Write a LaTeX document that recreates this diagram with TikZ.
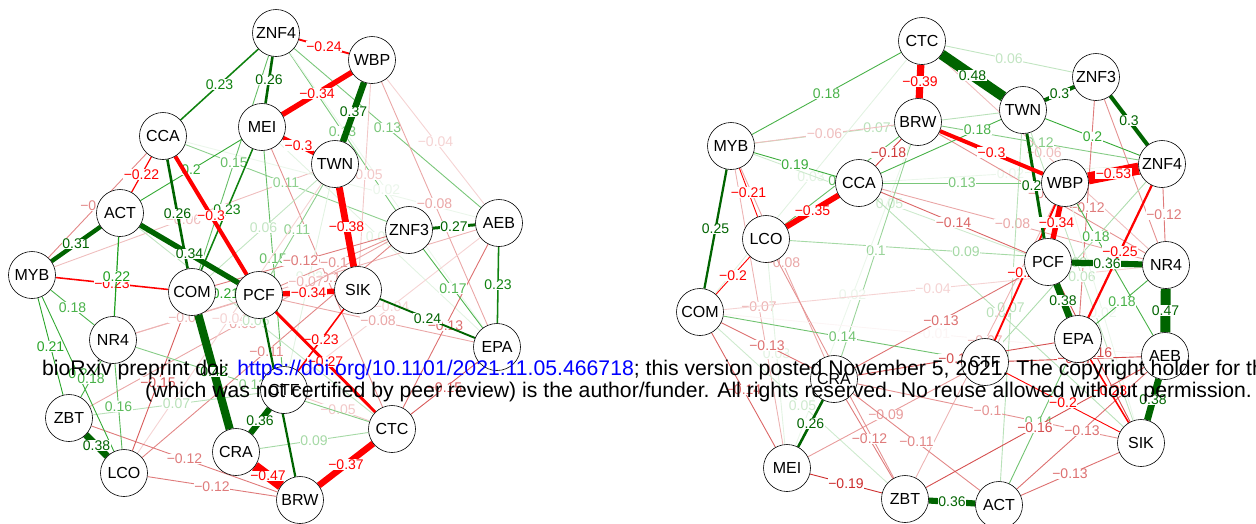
\documentclass[tikz,border=0pt]{standalone}
\usepackage{fontspec}
\setmainfont{Liberation Sans}
\definecolor{gdark}{RGB}{0,100,0}
\definecolor{gmid}{RGB}{30,160,30}
\definecolor{rmid}{RGB}{205,45,45}
\definecolor{rstrong}{RGB}{255,0,0}
\definecolor{doiblue}{RGB}{0,0,255}
\pgfdeclarelayer{fg}
\pgfdeclarelayer{top}
\pgfsetlayers{main,fg,top}
\tikzset{
  nd/.style={circle, draw=black, line width=0.6pt, fill=white, minimum size=47pt, inner sep=0pt, font=\fontsize{16}{16}\selectfont},
  elab/.style={fill=white, inner sep=0.4pt, font=\fontsize{14}{14}\selectfont},
  banner/.style={anchor=base west, inner sep=0pt, font=\fontsize{21.2}{22}\selectfont}
}
% #1 label pos, #2 from, #3 to, #4 sign (+/-), #5 absolute weight
\newcommand\edg[5][0.5]{%
  \pgfmathsetmacro\eAW{#5}%
  \pgfmathsetmacro\eLW{max(0.9,4+(\eAW-0.3)*35)}%
  \if-#4%
    \pgfmathtruncatemacro\ePC{min(100,100*\eAW/0.19)}%
    \pgfmathtruncatemacro\eCS{\eAW>=0.195?1:0}%
    \ifnum\eCS=1 \colorlet{ec}{rstrong}\else\colorlet{ec}{rmid!\ePC!white}\fi
    \def\eLab{−#5}%
  \else
    \pgfmathtruncatemacro\ePC{min(100,100*\eAW/0.22)}%
    \pgfmathtruncatemacro\eCS{\eAW>=0.235?1:(\eAW>=0.225?2:0)}%
    \ifcase\eCS \colorlet{ec}{gmid!\ePC!white}\or\colorlet{ec}{gdark}\or\colorlet{ec}{gdark!50!gmid}\fi
    \def\eLab{#5}%
  \fi
  \draw[ec, line width=\eLW pt] (#2) -- node[pos=#1, elab, text=ec] {\eLab} (#3);%
}
\begin{document}
\begin{tikzpicture}[x=1pt,y=-1pt]
\useasboundingbox (0,0) rectangle (1256,523);
\begin{pgfonlayer}{fg}
% left network
\node[nd] (lZNF4) at (276,33) {ZNF4};
\node[nd] (lWBP) at (372,60) {WBP};
\node[nd] (lCCA) at (163,136) {CCA};
\node[nd] (lMEI) at (262,127) {MEI};
\node[nd] (lTWN) at (335,164) {TWN};
\node[nd] (lACT) at (120,213) {ACT};
\node[nd] (lZNF3) at (409,230) {ZNF3};
\node[nd] (lAEB) at (499,223) {AEB};
\node[nd] (lMYB) at (32,275) {MYB};
\node[nd] (lCOM) at (192,292) {COM};
\node[nd] (lPCF) at (259,295) {PCF};
\node[nd] (lSIK) at (358,290) {SIK};
\node[nd] (lNR4) at (113,340) {NR4};
\node[nd] (lEPA) at (497,347) {EPA};
\node[nd] (lCTF) at (284,390) {CTF};
\node[nd] (lZBT) at (69,418) {ZBT};
\node[nd] (lCTC) at (392,429) {CTC};
\node[nd] (lCRA) at (236,452) {CRA};
\node[nd] (lLCO) at (124,473) {LCO};
\node[nd] (lBRW) at (300,500) {BRW};
% right network
\node[nd] (rCTC) at (922,41) {CTC};
\node[nd] (rZNF3) at (1096,77) {ZNF3};
\node[nd] (rMYB) at (731,146) {MYB};
\node[nd] (rBRW) at (918,122) {BRW};
\node[nd] (rTWN) at (1023,110) {TWN};
\node[nd] (rZNF4) at (1162,164) {ZNF4};
\node[nd] (rCCA) at (859,183) {CCA};
\node[nd] (rWBP) at (1065,183) {WBP};
\node[nd] (rLCO) at (766,239) {LCO};
\node[nd] (rPCF) at (1048,262) {PCF};
\node[nd] (rNR4) at (1166,265) {NR4};
\node[nd] (rCOM) at (700,312) {COM};
\node[nd] (rEPA) at (1078,339) {EPA};
\node[nd] (rAEB) at (1165,356) {AEB};
\node[nd] (rCTF) at (985,362) {CTF};
\node[nd] (rCRA) at (834,379) {CRA};
\node[nd] (rSIK) at (1141,443) {SIK};
\node[nd] (rMEI) at (787,468) {MEI};
\node[nd] (rZBT) at (905,499) {ZBT};
\node[nd] (rACT) at (999,505) {ACT};
\end{pgfonlayer}
% ---------- left edges, weak ----------
\edg{lMYB}{lCCA}{-}{0.11}
\edg{lMYB}{lTWN}{-}{0.06}
\edg{lCCA}{lZNF3}{+}{0.11}
\edg{lCCA}{lAEB}{+}{0.02}
\edg{lZNF4}{lCOM}{+}{0.15}
\edg{lZNF4}{lZNF3}{+}{0.13}
\edg{lZNF4}{lAEB}{+}{0.13}
\edg{lWBP}{lAEB}{-}{0.04}
\edg{lWBP}{lEPA}{-}{0.08}
\edg{lZNF4}{lEPA}{+}{0.02}
\edg{lWBP}{lSIK}{-}{0.05}
\edg{lMEI}{lCTC}{-}{0.1}
\edg{lMEI}{lEPA}{+}{0.03}
\edg{lMEI}{lCTF}{+}{0.15}
\edg{lTWN}{lCOM}{+}{0.06}
\edg{lTWN}{lPCF}{+}{0.11}
\edg{lTWN}{lCTF}{+}{0.03}
\edg{lZNF3}{lPCF}{-}{0.1}
\edg{lAEB}{lNR4}{-}{0.07}
\edg{lZNF3}{lCOM}{-}{0.12}
\edg{lZNF3}{lLCO}{-}{0.11}
\edg{lZNF3}{lZBT}{-}{0.08}
\edg{lTWN}{lLCO}{-}{0.04}
\edg{lAEB}{lCTF}{-}{0.04}
\edg{lEPA}{lPCF}{-}{0.08}
\edg{lAEB}{lCTC}{-}{0.13}
\edg{lEPA}{lCTC}{-}{0.15}
\edg{lZBT}{lCTF}{+}{0.07}
\edg{lZBT}{lBRW}{-}{0.12}
\edg{lLCO}{lBRW}{-}{0.12}
\edg{lLCO}{lCOM}{-}{0.15}
\edg{lACT}{lCTC}{+}{0.06}
\edg{lCRA}{lCTC}{+}{0.09}
\edg{lCTF}{lCTC}{-}{0.05}
\edg{lNR4}{lCTC}{+}{0.12}
\edg{lNR4}{lPCF}{-}{0.07}
% ---------- left edges, medium and strong ----------
\edg{lCCA}{lACT}{-}{0.22}
\edg{lACT}{lMEI}{+}{0.2}
\edg{lMEI}{lCOM}{+}{0.23}
\edg{lZNF4}{lCCA}{+}{0.23}
\edg{lMYB}{lCOM}{-}{0.23}
\edg{lACT}{lNR4}{+}{0.22}
\edg{lMYB}{lNR4}{+}{0.18}
\edg{lMYB}{lZBT}{+}{0.21}
\edg{lMYB}{lLCO}{+}{0.2}
\edg{lZBT}{lNR4}{+}{0.18}
\edg{lNR4}{lLCO}{+}{0.16}
\edg{lZNF3}{lEPA}{+}{0.17}
\edg{lAEB}{lEPA}{+}{0.23}
\edg{lSIK}{lEPA}{+}{0.24}
\edg{lZNF4}{lWBP}{-}{0.24}
\edg{lCOM}{lPCF}{+}{0.21}
\edg{lPCF}{lBRW}{+}{0.25}
\edg{lCCA}{lCOM}{+}{0.26}
\edg{lZNF4}{lMEI}{+}{0.26}
\edg{lZNF3}{lAEB}{+}{0.27}
\edg{lSIK}{lCTF}{-}{0.23}
\edg{lPCF}{lCTC}{-}{0.27}
\edg{lMEI}{lTWN}{-}{0.3}
\edg{lCCA}{lPCF}{-}{0.3}
\edg{lMYB}{lACT}{+}{0.31}
\edg{lACT}{lPCF}{+}{0.34}
\edg{lMEI}{lWBP}{-}{0.34}
\edg{lPCF}{lSIK}{-}{0.34}
\edg{lCRA}{lCTF}{+}{0.36}
\edg{lWBP}{lTWN}{+}{0.37}
\edg{lCTC}{lBRW}{-}{0.37}
\edg{lTWN}{lSIK}{-}{0.38}
\edg{lZBT}{lLCO}{+}{0.38}
\edg{lCOM}{lCRA}{+}{0.42}
\edg{lCRA}{lBRW}{-}{0.47}
% ---------- right edges, weak ----------
\edg{rCTC}{rZNF3}{+}{0.06}
\edg{rMYB}{rTWN}{+}{0.07}
\edg{rMYB}{rBRW}{-}{0.06}
\edg{rCOM}{rCTC}{+}{0.03}
\edg{rMYB}{rCRA}{-}{0.08}
\edg{rMYB}{rMEI}{-}{0.07}
\edg{rMYB}{rPCF}{+}{0.05}
\edg{rCCA}{rZNF4}{+}{0.02}
\edg{rBRW}{rZNF4}{+}{0.12}
\edg{rCTC}{rNR4}{-}{0.06}
\edg{rCCA}{rNR4}{-}{0.08}
\edg{rLCO}{rNR4}{+}{0.09}
\edg{rCRA}{rBRW}{+}{0.1}
\edg{rMEI}{rBRW}{+}{0.02}
\edg{rLCO}{rMEI}{+}{0.03}
\edg{rCOM}{rZBT}{+}{0.05}
\edg{rCOM}{rNR4}{-}{0.04}
\edg{rCOM}{rAEB}{-}{0.01}
\edg{rZNF3}{rEPA}{-}{0.12}
\edg{rZNF3}{rNR4}{-}{0.1}
\edg{rZNF4}{rNR4}{-}{0.12}
\edg{rBRW}{rNR4}{-}{0.1}
\edg{rZNF4}{rCTF}{+}{0.08}
\edg{rTWN}{rSIK}{+}{0.06}
\edg{rWBP}{rSIK}{+}{0.02}
\edg{rCCA}{rSIK}{+}{0.07}
\edg{rTWN}{rACT}{+}{0.07}
\edg{rWBP}{rZBT}{-}{0.07}
\edg{rLCO}{rZBT}{-}{0.1}
\edg{rLCO}{rBRW}{+}{0.15}
\edg{rCCA}{rPCF}{-}{0.14}
\edg{rCRA}{rPCF}{-}{0.13}
\edg{rCOM}{rCRA}{-}{0.13}
\edg{rCOM}{rMEI}{-}{0.14}
\edg{rCOM}{rCTF}{+}{0.14}
\edg{rCRA}{rEPA}{-}{0.16}
\edg{rCRA}{rSIK}{-}{0.1}
\edg{rMEI}{rCTF}{-}{0.09}
\edg{rCRA}{rACT}{-}{0.11}
\edg{rCRA}{rZBT}{-}{0.12}
% ---------- right edges, medium and strong ----------
\edg{rCCA}{rZNF3}{+}{0.18}
\edg{rMYB}{rCCA}{+}{0.19}
\edg{rCTC}{rMYB}{+}{0.18}
\edg{rCCA}{rBRW}{-}{0.18}
\edg{rCCA}{rWBP}{+}{0.13}
\edg[0.25]{rWBP}{rAEB}{+}{0.18}
\edg{rNR4}{rEPA}{+}{0.18}
\edg{rACT}{rEPA}{+}{0.14}
\edg{rACT}{rSIK}{-}{0.13}
\edg{rACT}{rAEB}{-}{0.13}
\edg{rZBT}{rAEB}{-}{0.16}
\edg{rCTF}{rAEB}{-}{0.17}
\edg{rMEI}{rZBT}{-}{0.19}
\edg{rCTF}{rSIK}{-}{0.2}
\edg{rLCO}{rCOM}{-}{0.2}
\edg{rMYB}{rLCO}{-}{0.21}
\edg{rTWN}{rZNF4}{+}{0.2}
\edg{rPCF}{rSIK}{-}{0.16}
\edg{rEPA}{rSIK}{-}{0.23}
\edg{rWBP}{rCTF}{-}{0.24}
\edg{rZNF4}{rEPA}{-}{0.25}
\edg{rMYB}{rCOM}{+}{0.25}
\edg{rCRA}{rMEI}{+}{0.26}
\edg{rTWN}{rPCF}{+}{0.27}
\edg{rTWN}{rZNF3}{+}{0.3}
\edg{rZNF3}{rZNF4}{+}{0.3}
\edg{rBRW}{rWBP}{-}{0.3}
\edg{rWBP}{rPCF}{-}{0.34}
\edg{rCCA}{rLCO}{-}{0.35}
\edg{rPCF}{rNR4}{+}{0.36}
\edg{rZBT}{rACT}{+}{0.36}
\edg{rPCF}{rEPA}{+}{0.38}
\edg{rAEB}{rSIK}{+}{0.38}
\edg{rCTC}{rBRW}{-}{0.39}
\edg{rNR4}{rAEB}{+}{0.47}
\edg{rCTC}{rTWN}{+}{0.48}
\edg{rWBP}{rZNF4}{-}{0.53}
% ---------- overlay text ----------
\begin{pgfonlayer}{top}
\node[banner] (doi) at (42,375) {bioRxiv preprint doi: \textcolor{doiblue}{https://doi.org/10.1101/2021.11.05.466718}; this version posted November 5, 2021. The copyright holder for this preprint};
\node[banner] (rights) at (145,397) {(which was not certified by peer review) is the author/funder. All rights reserved. No reuse allowed without permission.};
\end{pgfonlayer}
\end{tikzpicture}
\end{document}
